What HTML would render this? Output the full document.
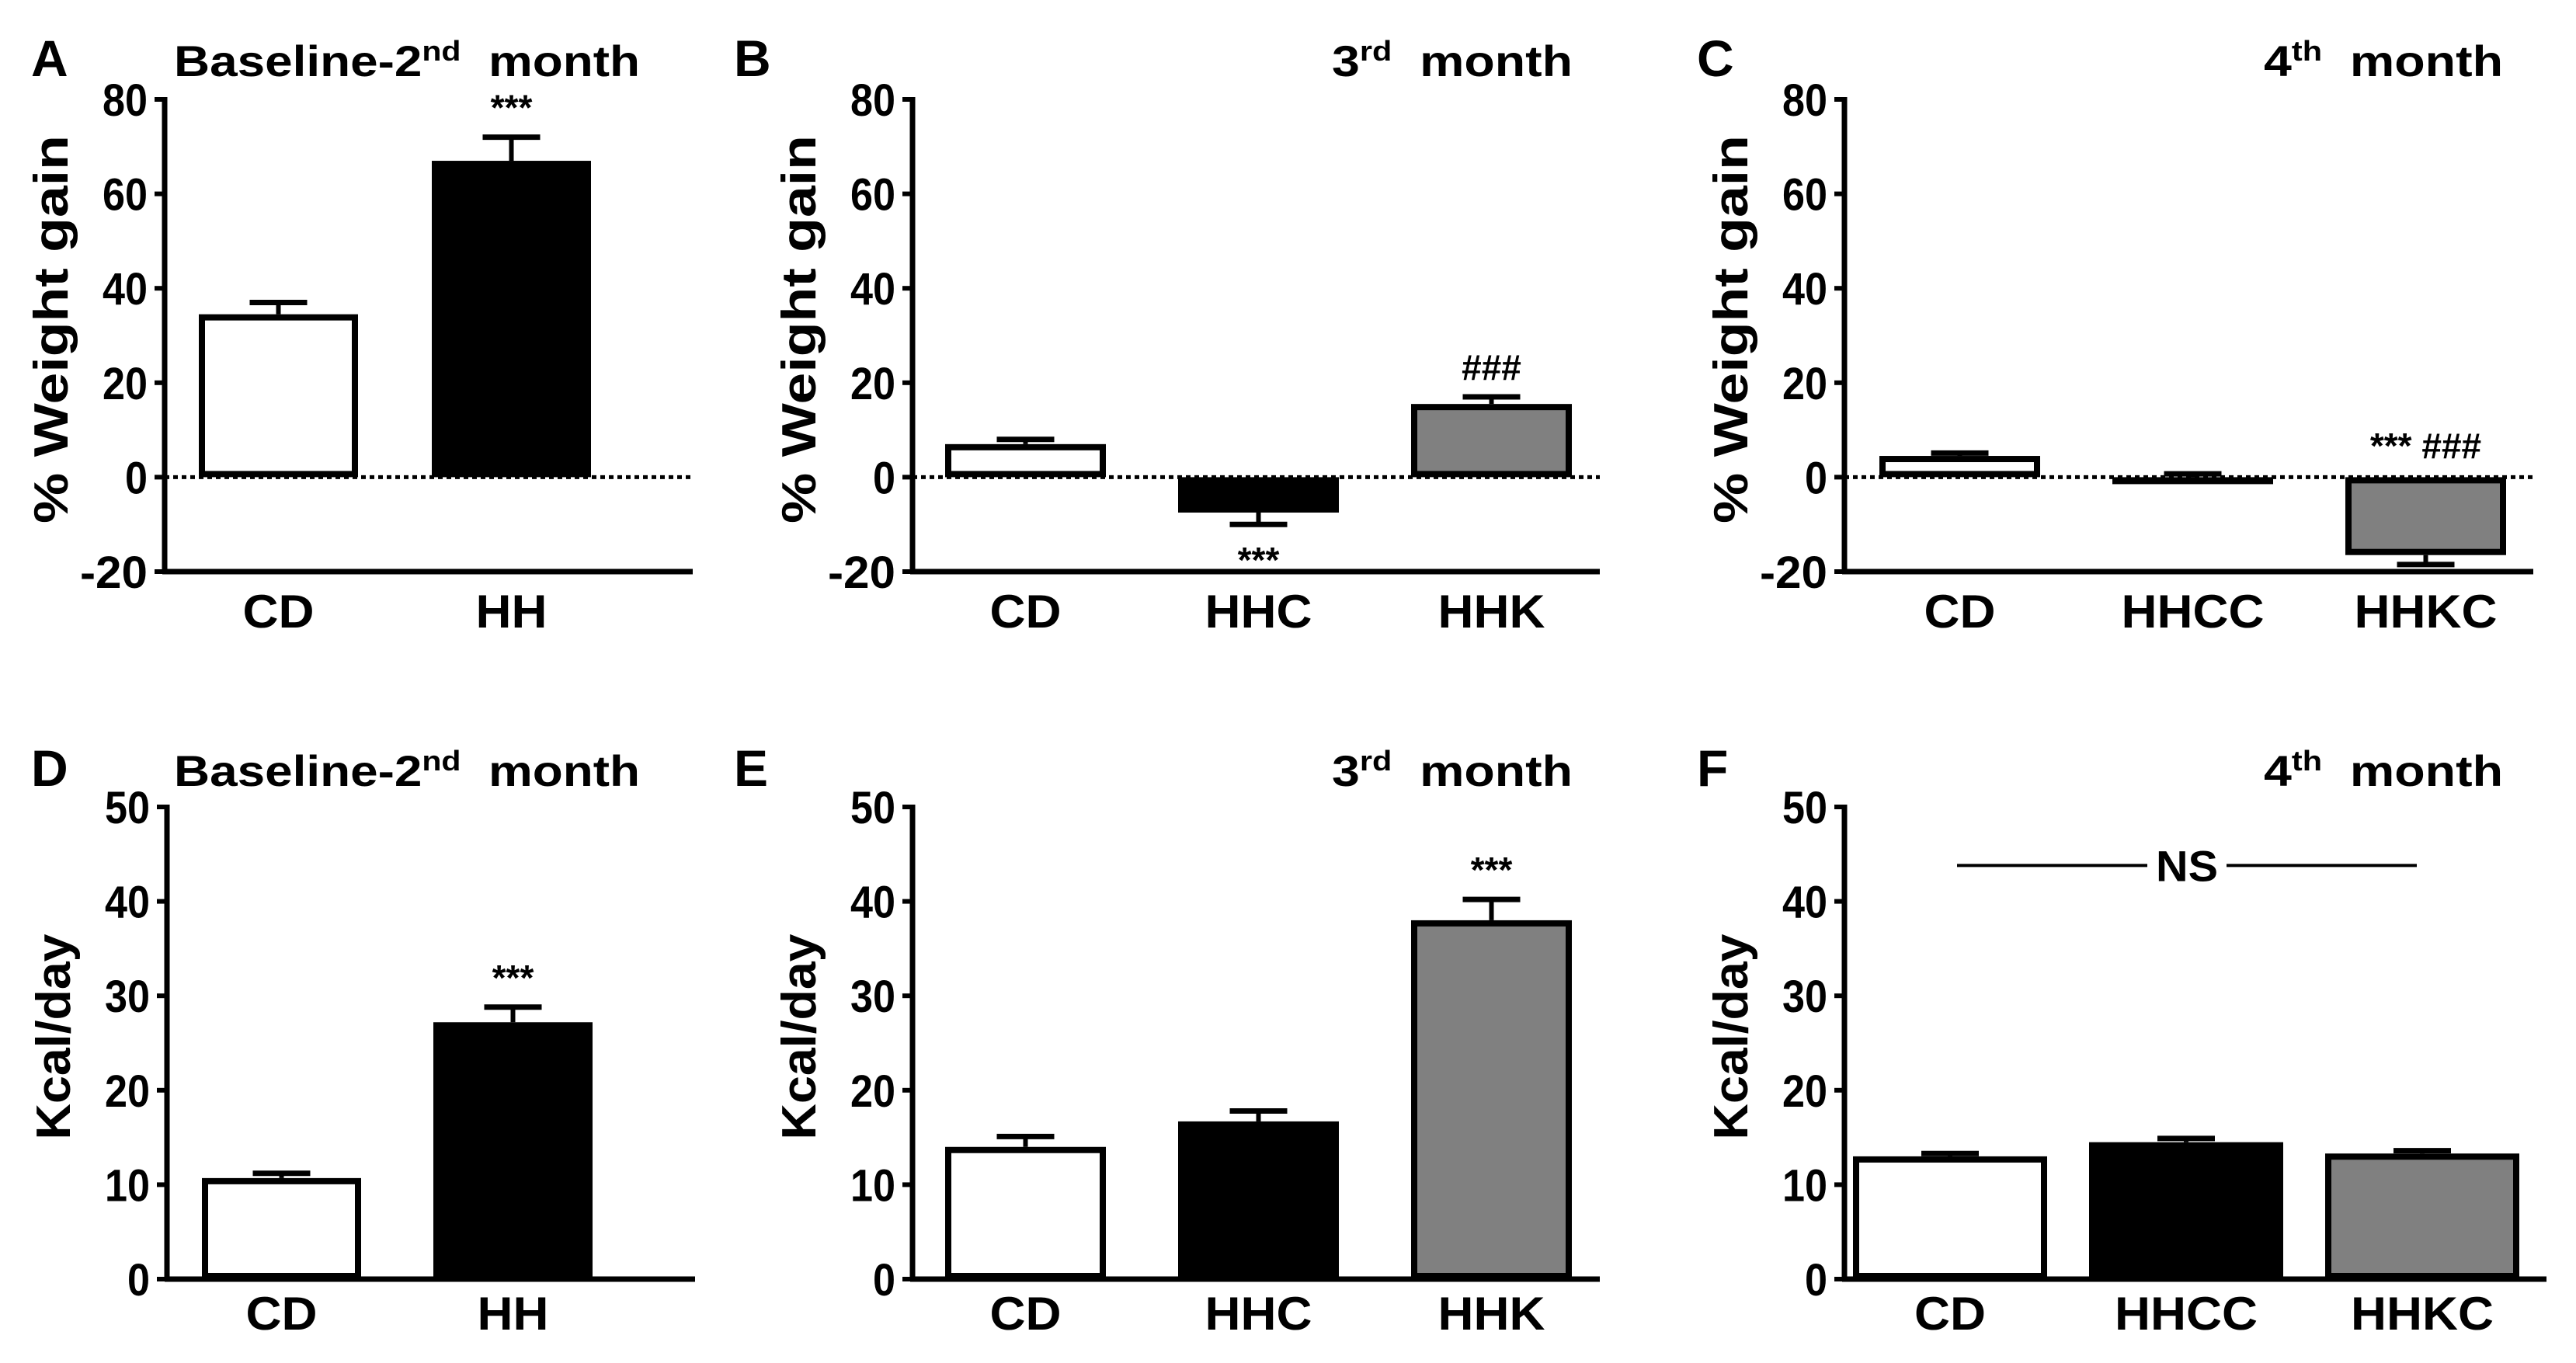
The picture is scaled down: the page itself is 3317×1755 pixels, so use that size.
<!DOCTYPE html>
<html><head><meta charset="utf-8"><style>
html,body{margin:0;padding:0;background:#fff;}
svg{display:block;}
text{font-family:"Liberation Sans Narrow","Liberation Sans",sans-serif;font-weight:bold;fill:#000;}
</style></head><body>
<svg id="fig" width="3317" height="1755" viewBox="0 0 3317 1755" xmlns="http://www.w3.org/2000/svg"></svg>
<script>
// ---- data ----
const catsA = ["CD","HH"];
const valsA = [34.5, 67];
const errsA = [2.5, 5];
const catsB = ["CD","HHC","HHK"];
const valsB = [7, -7.5, 15.5];
const errsB = [1, -2.5, 1.5];
const catsC = ["CD","HHCC","HHKC"];
const valsC = [4.5, 0, -16.5];
const errsC = [0.6, 0.7, -2];
const catsD = ["CD","HH"];
const valsD = [10.7, 27.2];
const errsD = [0.5, 1.6];
const catsE = ["CD","HHC","HHK"];
const valsE = [14, 16.7, 38];
const errsE = [1.1, 1.1, 2.2];
const catsF = ["CD","HHCC","HHKC"];
const valsF = [13, 14.5, 13.3];
const errsF = [0.3, 0.4, 0.3];
const ticksWeight = [80, 60, 40, 20, 0, -20];
const ticksKcal = [50, 40, 30, 20, 10, 0];

const NS = "http://www.w3.org/2000/svg";
const svg = document.getElementById('fig');
function mk(tag, attrs, parent){
  const e = document.createElementNS(NS, tag);
  for (const k in attrs) e.setAttribute(k, attrs[k]);
  (parent||svg).appendChild(e);
  return e;
}
const fills = ["#ffffff","#000000","#808080"];

function panel(p){
  const g = mk('g', {});
  
  
  const y = v => p.y1 - (v - p.min) / (p.max - p.min) * (p.y1 - p.y0);
  const L = mk('text', {x:p.letterX, y:p.titleY, 'font-size':66, 'font-family':'Liberation Sans'}, g);
  L.textContent = p.letter;
  
  
  const T = mk('text', {x:p.titleX, y:p.titleY, 'font-size':56, textLength:p.titleW, lengthAdjust:'spacingAndGlyphs'}, g);
  T.innerHTML = p.titleHTML;
  
  
  const cy = (p.y0 + p.y1) / 2 - 8;
  const YT = mk('text', {x:0, y:0, 'font-size':62, 'text-anchor':'middle', textLength:p.ytLen, lengthAdjust:'spacingAndGlyphs', transform:'translate(' + (p.ax - 125) + ',' + cy + ') rotate(-90)'}, g);
  YT.textContent = p.ytitle;
  
  
  p.ticks.forEach(t => {
    const tl = mk('line', {x1:p.ax-13, x2:p.ax, y1:y(t), y2:y(t), stroke:'#000', 'stroke-width':6}, g);
    
    
    const s = String(t);
    const tx = mk('text', {x:p.ax-22, y:y(t)+21, 'font-size':58, 'text-anchor':'end', textLength:s.length*29, lengthAdjust:'spacingAndGlyphs'}, g);
    tx.textContent = s;
    
    
  });
  if (p.min < 0) {
    const z = mk('line', {x1:p.ax, x2:p.xEnd, y1:y(0), y2:y(0), stroke:'#000', 'stroke-width':5, 'stroke-dasharray':'6 5'}, g);
    
    
  }
  p.cats.forEach((c, i) => {
    const x = p.barX[i], w = p.barW, v = p.vals[i], e = p.errs[i];
    const top = Math.min(y(0), y(v)), h = Math.max(Math.abs(y(v) - y(0)), 2);
    const cx = x + w/2;
    const ebEnd = y(v + e);
    const el = mk('line', {x1:cx, x2:cx, y1:y(v), y2:ebEnd, stroke:'#000', 'stroke-width':6}, g);
    
    
    const cap = mk('line', {x1:cx-37, x2:cx+37, y1:ebEnd, y2:ebEnd, stroke:'#000', 'stroke-width':7}, g);
    
    
    const r = mk('rect', {x:x+4, y:top+4, width:w-8, height:Math.max(h-8,1), fill:fills[i], stroke:'#000', 'stroke-width':8}, g);
    
    
    const lb = mk('text', {x:cx, y:p.labelY, 'font-size':60, 'text-anchor':'middle', textLength:c.length*46, lengthAdjust:'spacingAndGlyphs'}, g);
    lb.textContent = c;
    
    
  });
  const yax = mk('line', {x1:p.ax, x2:p.ax, y1:p.y0-3, y2:p.y1+3, stroke:'#000', 'stroke-width':7}, g);
  
  
  const xax = mk('line', {x1:p.ax-3, x2:p.xEnd, y1:p.y1, y2:p.y1, stroke:'#000', 'stroke-width':7}, g);
  
  
  (p.ann || []).forEach(a => {
    const i = a.i;
    const cx = p.barX[i] + p.barW/2;
    const yy = a.below ? y(p.vals[i] + p.errs[i]) + 62 : (a.at !== undefined ? y(a.at) : y(p.vals[i] + p.errs[i]) - 22);
    const at = mk('text', {x:cx, y:yy, 'font-size':46, 'text-anchor':'middle', 'font-family':'Liberation Sans'}, g);
    at.textContent = a.t;
    
    
  });
  return {g, y};
}

const sup = s => '<tspan dy="-20" font-size="36">' + s + '</tspan><tspan dy="20">';
const r1 = {y0:128, y1:736, min:-20, max:80, ticks:ticksWeight, ytitle:'% Weight gain', ytLen:500, labelY:808, titleY:98};
const r2 = {y0:1039, y1:1647, min:0, max:50, ticks:ticksKcal, ytitle:'Kcal/day', ytLen:265, labelY:1712, titleY:1012};

panel(Object.assign({}, r1, {letter:'A', letterX:40, titleX:224, titleW:600, titleHTML:'Baseline-2' + sup('nd') + '\u00a0 month</tspan>', ax:212, xEnd:892, barX:[256,556], barW:205, cats:catsA, vals:valsA, errs:errsA, ann:[{i:1,t:'***'}]}));
panel(Object.assign({}, r1, {letter:'B', letterX:945, titleX:1715, titleW:310, titleHTML:'3' + sup('rd') + '\u00a0 month</tspan>', ax:1175, xEnd:2060, barX:[1217,1517,1817], barW:207, cats:catsB, vals:valsB, errs:errsB, ann:[{i:1,t:'***',below:true},{i:2,t:'###'}]}));
panel(Object.assign({}, r1, {letter:'C', letterX:2185, titleX:2915, titleW:308, titleHTML:'4' + sup('th') + '\u00a0 month</tspan>', ax:2375, xEnd:3262, barX:[2420,2720,3020], barW:207, cats:catsC, vals:valsC, errs:errsC, ann:[{i:2,t:'*** ###',at:4}]}));
panel(Object.assign({}, r2, {letter:'D', letterX:40, titleX:224, titleW:600, titleHTML:'Baseline-2' + sup('nd') + '\u00a0 month</tspan>', ax:215, xEnd:895, barX:[260,558], barW:205, cats:catsD, vals:valsD, errs:errsD, ann:[{i:1,t:'***'}]}));
panel(Object.assign({}, r2, {letter:'E', letterX:945, titleX:1715, titleW:310, titleHTML:'3' + sup('rd') + '\u00a0 month</tspan>', ax:1175, xEnd:2060, barX:[1217,1517,1817], barW:207, cats:catsE, vals:valsE, errs:errsE, ann:[{i:2,t:'***'}]}));
const pf = panel(Object.assign({}, r2, {letter:'F', letterX:2185, titleX:2915, titleW:308, titleHTML:'4' + sup('th') + '\u00a0 month</tspan>', ax:2375, xEnd:3279, barX:[2386,2690,2994], barW:250, cats:catsF, vals:valsF, errs:errsF}));
const nsVal = 43.8;
const nsY = pf.y(nsVal);
const n1 = mk('line', {x1:2520, x2:2765, y1:nsY, y2:nsY, stroke:'#000', 'stroke-width':4});


const n2 = mk('line', {x1:2867, x2:3112, y1:nsY, y2:nsY, stroke:'#000', 'stroke-width':4});


const nt = mk('text', {x:2816, y:nsY+20, 'font-size':56, 'text-anchor':'middle', textLength:80, lengthAdjust:'spacingAndGlyphs'});
nt.textContent = 'NS';


</script>
</body></html>
